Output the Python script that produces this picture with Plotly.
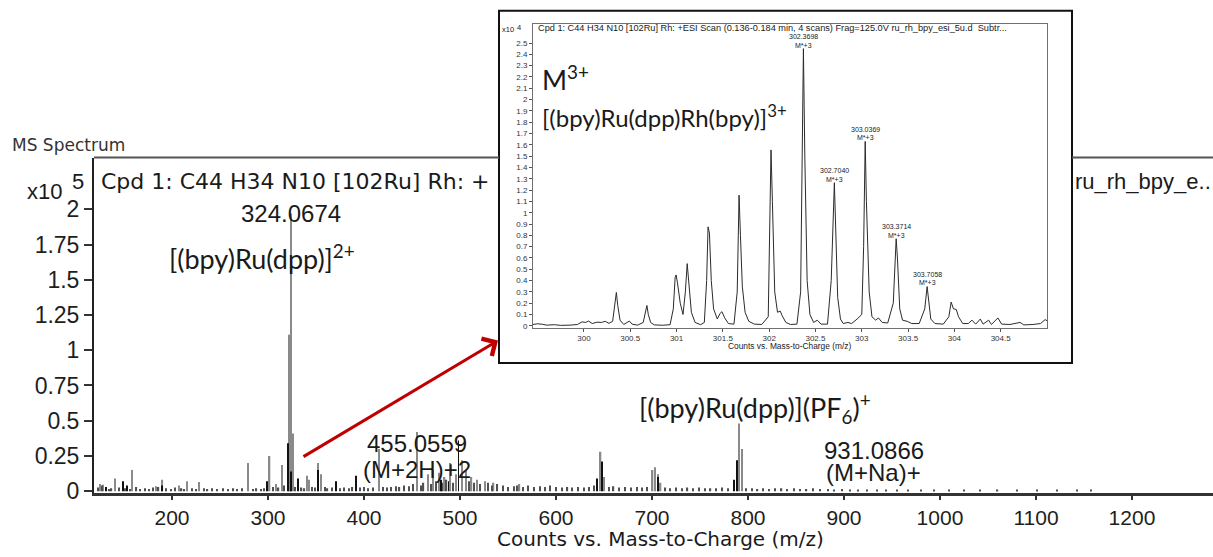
import plotly.graph_objects as go

W, H = 1213, 557
ARIAL = "Liberation Sans, Arial, sans-serif"
WIDE = "DejaVu Sans, Verdana, sans-serif"
HUMAN = "Lato, Calibri, sans-serif"

# ---------------- full-range spectrum (x10^5 counts) ----------------
# labelled ions
main_label_mz = [324.0674, 455.0559, 931.0866]
main_label_counts = [1.97, 0.42, 0.0]
main_label_charge = ["", "(M+2H)+2", "(M+Na)+"]

# profile signal (gray)
profile_mz = [125, 128, 140.5, 158, 183, 190, 207, 216, 228.5, 279.5, 301.7, 308,
              314.3, 321.9, 323.0, 325.9, 340.3, 343, 352.4, 355, 415.6,
              467, 472, 478, 484, 490, 496, 502, 506, 512, 518, 526, 535, 562,
              646.5, 650, 700.7, 703, 706, 709, 790.6, 793.8]
profile_counts = [0.05, 0.045, 0.09, 0.15, 0.035, 0.08, 0.04, 0.07, 0.065, 0.20, 0.25, 0.05,
                  0.185, 1.11, 1.11, 0.41, 0.11, 0.08, 0.20, 0.12, 0.30,
                  0.12, 0.15, 0.13, 0.10, 0.20, 0.12, 0.22, 0.15, 0.10, 0.08, 0.07, 0.06, 0.05,
                  0.28, 0.10, 0.15, 0.17, 0.12, 0.06, 0.48, 0.30]

# centroid sticks (black)
stick_mz = [131, 149, 153, 190, 299.3, 320.5, 324.0, 331.6, 352.0, 370.5, 391.3,
            480, 488, 498.4, 643, 648, 706, 785, 789]
stick_counts = [0.03, 0.07, 0.04, 0.04, 0.07, 0.34, 0.14, 0.09, 0.15, 0.07, 0.11,
                0.08, 0.07, 0.36, 0.09, 0.21, 0.10, 0.08, 0.22]

# low-level chemical noise along the baseline
noise_mz = [123, 127, 134, 137, 145, 151, 156, 163, 167, 172, 176, 180, 186, 194, 199,
            203, 210, 213, 221, 225, 233, 237, 242, 247, 253, 258, 264, 268, 273, 284,
            288, 293, 296, 305, 311, 317, 328, 335, 338, 346, 349, 359, 362, 367, 375,
            379, 384, 388, 396, 400, 404, 409, 420, 424, 428, 433, 437, 442, 447, 451,
            459, 462, 470, 475, 481, 486, 493, 509, 515, 521, 529, 533, 539, 545, 550,
            556, 560, 566, 571, 577, 583, 589, 594, 600, 606, 612, 617, 623, 629, 634,
            640, 655, 660, 666, 672, 678, 684, 690, 695, 714, 719, 725, 731, 737, 743,
            749, 755, 761, 767, 773, 779, 798, 804, 810, 816, 822, 828, 835, 841, 848,
            854, 861, 868, 875, 883, 890, 898, 906, 915, 924, 934, 944, 955, 967, 980,
            994, 1009, 1025, 1042, 1060, 1080, 1101, 1122, 1143, 1157]
noise_counts = [0.025, 0.04, 0.015, 0.02, 0.025, 0.02, 0.015, 0.03, 0.015, 0.02, 0.015, 0.025, 0.03, 0.02, 0.015,
                0.025, 0.02, 0.015, 0.02, 0.015, 0.02, 0.015, 0.02, 0.015, 0.02, 0.015, 0.02, 0.015, 0.02, 0.015,
                0.02, 0.015, 0.02, 0.03, 0.025, 0.04, 0.03, 0.025, 0.02, 0.03, 0.025, 0.03, 0.02, 0.025, 0.02,
                0.025, 0.02, 0.03, 0.025, 0.03, 0.02, 0.025, 0.03, 0.025, 0.03, 0.035, 0.03, 0.04, 0.035, 0.05,
                0.04, 0.06, 0.05, 0.07, 0.06, 0.08, 0.06, 0.07, 0.06, 0.05, 0.06, 0.04, 0.05, 0.04, 0.03,
                0.035, 0.04, 0.03, 0.04, 0.03, 0.035, 0.03, 0.04, 0.03, 0.025, 0.03, 0.025, 0.03, 0.025, 0.03,
                0.04, 0.03, 0.035, 0.025, 0.03, 0.025, 0.03, 0.025, 0.03, 0.025, 0.02, 0.025, 0.02, 0.025, 0.02,
                0.025, 0.02, 0.02, 0.02, 0.025, 0.02, 0.02, 0.02, 0.015, 0.02, 0.015, 0.02, 0.02, 0.015, 0.02,
                0.015, 0.015, 0.02, 0.015, 0.015, 0.012, 0.015, 0.012, 0.012, 0.01, 0.012, 0.01, 0.01, 0.008, 0.01,
                0.008, 0.008, 0.006, 0.008, 0.006, 0.006, 0.006, 0.005, 0.006, 0.006]

main_xticks = [200, 300, 400, 500, 600, 700, 800, 900, 1000, 1100, 1200]
main_yticks = [0, 0.25, 0.5, 0.75, 1, 1.25, 1.5, 1.75, 2]
main_yticktext = ["0", "0.25", "0.5", "0.75", "1", "1.25", "1.5", "1.75", "2"]

# ---------------- zoomed M3+ isotope cluster (x10^4 counts) ----------------
inset_peak_mz = [302.3698, 302.7040, 303.0369, 303.3714, 303.7058]
inset_peak_counts = [2.45, 1.265, 1.63, 0.77, 0.347]

inset_mz = [299.45, 299.50, 299.55, 299.60, 299.68, 299.75, 299.85, 299.93, 299.98, 300.02,
            300.05, 300.09, 300.14, 300.19, 300.23, 300.27, 300.31, 300.335, 300.35, 300.365,
            300.39, 300.43, 300.47, 300.49, 300.52, 300.58, 300.64, 300.665, 300.68, 300.695,
            300.72, 300.76, 300.85, 300.93, 300.965, 300.985, 300.995, 301.01, 301.04, 301.07,
            301.095, 301.115, 301.13, 301.16, 301.20, 301.26, 301.30, 301.325, 301.34, 301.355,
            301.375, 301.40, 301.44, 301.47, 301.49, 301.52, 301.56, 301.62, 301.655, 301.675,
            301.69, 301.71, 301.74, 301.78, 301.84, 301.92, 301.99, 302.01, 302.02, 302.035,
            302.06, 302.09, 302.12, 302.14, 302.18, 302.23, 302.30, 302.34, 302.358,
            302.385, 302.41, 302.44, 302.48, 302.52, 302.56, 302.63, 302.67,
            302.718, 302.74, 302.77, 302.80, 302.85, 302.89, 302.95, 303.00, 303.02,
            303.05, 303.08, 303.11, 303.15, 303.18, 303.22, 303.28, 303.34,
            303.385, 303.41, 303.44, 303.49, 303.54, 303.62, 303.68,
            303.72, 303.745, 303.79, 303.88, 303.94, 303.965, 303.99, 304.02, 304.045,
            304.09, 304.15, 304.19, 304.23, 304.28, 304.31, 304.37, 304.40, 304.47, 304.51,
            304.60, 304.71, 304.75, 304.85, 304.93, 304.98, 305.00]
inset_counts = [0.012, 0.018, 0.014, 0.006, 0.010, 0.004, 0.006, 0.012, 0.035, 0.030,
                0.042, 0.020, 0.032, 0.030, 0.040, 0.022, 0.040, 0.200, 0.295, 0.180,
                0.050, 0.012, 0.030, 0.042, 0.015, 0.006, 0.030, 0.120, 0.180, 0.100,
                0.030, 0.008, 0.005, 0.010, 0.150, 0.430, 0.450, 0.380, 0.200, 0.100,
                0.300, 0.550, 0.380, 0.120, 0.030, 0.010, 0.030, 0.400, 0.875, 0.820,
                0.400, 0.150, 0.060, 0.110, 0.125, 0.070, 0.020, 0.015, 0.300, 1.155,
                0.800, 0.350, 0.120, 0.040, 0.015, 0.012, 0.080, 0.900, 1.555, 1.100,
                0.300, 0.120, 0.130, 0.090, 0.030, 0.012, 0.015, 0.300, 1.800,
                1.500, 0.400, 0.100, 0.030, 0.050, 0.015, 0.015, 0.400,
                0.900, 0.250, 0.060, 0.020, 0.030, 0.020, 0.060, 0.100, 0.700,
                1.100, 0.300, 0.080, 0.050, 0.070, 0.030, 0.025, 0.200,
                0.600, 0.150, 0.050, 0.040, 0.020, 0.020, 0.150,
                0.250, 0.060, 0.020, 0.015, 0.080, 0.210, 0.150, 0.145, 0.080,
                0.020, 0.020, 0.050, 0.015, 0.060, 0.015, 0.050, 0.012, 0.070, 0.015,
                0.012, 0.030, 0.008, 0.012, 0.020, 0.055, 0.045]

inset_xticks = [300, 300.5, 301, 301.5, 302, 302.5, 303, 303.5, 304, 304.5]
inset_xticktext = ["300", "300.5", "301", "301.5", "302", "302.5", "303", "303.5", "304", "304.5"]
inset_yticks = [0, 0.1, 0.2, 0.3, 0.4, 0.5, 0.6, 0.7, 0.8, 0.9, 1, 1.1, 1.2, 1.3,
                1.4, 1.5, 1.6, 1.7, 1.8, 1.9, 2, 2.1, 2.2, 2.3, 2.4, 2.5]
inset_yticktext = ["0", "0.1", "0.2", "0.3", "0.4", "0.5", "0.6", "0.7", "0.8", "0.9", "1",
                   "1.1", "1.2", "1.3", "1.4", "1.5", "1.6", "1.7", "1.8", "1.9", "2",
                   "2.1", "2.2", "2.3", "2.4", "2.5"]


def px(x):
    return x / W


def py(y):
    return 1 - y / H


# profile trace includes the labelled ions; inset profile includes its labelled apexes
gray_x = profile_mz + main_label_mz[:2]
gray_y = profile_counts + main_label_counts[:2]
pts = sorted(zip(inset_mz + inset_peak_mz, inset_counts + inset_peak_counts))
inset_x = [p[0] for p in pts]
inset_y = [p[1] for p in pts]

fig = go.Figure()
fig.add_trace(go.Bar(x=gray_x, y=gray_y, width=1.4, marker=dict(color="#8a8a8a", line_width=0),
                     xaxis="x", yaxis="y", hoverinfo="skip"))
fig.add_trace(go.Bar(x=noise_mz, y=noise_counts, width=1.3, marker=dict(color="#505050", line_width=0),
                     xaxis="x", yaxis="y", hoverinfo="skip"))
fig.add_trace(go.Bar(x=stick_mz, y=stick_counts, width=0.9, marker=dict(color="#111111", line_width=0),
                     xaxis="x", yaxis="y", hoverinfo="skip"))
fig.add_trace(go.Scatter(x=inset_x, y=inset_y, mode="lines", line=dict(color="#2b2b2b", width=1),
                         xaxis="x2", yaxis="y2", hoverinfo="skip"))

tick_main = dict(family=ARIAL, size=21, color="#1e1e1e")
tick_inset = dict(family=ARIAL, size=8, color="#333333")

fig.update_layout(
    width=W, height=H, autosize=False,
    margin=dict(l=0, r=0, t=0, b=0),
    paper_bgcolor="white", plot_bgcolor="rgba(0,0,0,0)",
    showlegend=False, barmode="overlay",
    xaxis=dict(domain=[px(94), 1], range=[118.75, 1284.4], anchor="y",
               tickvals=main_xticks, ticks="outside", ticklen=4, tickwidth=1.5, tickcolor="#333",
               showline=True, linecolor="#333", linewidth=3, showgrid=False, zeroline=False,
               tickfont=tick_main),
    yaxis=dict(domain=[py(503.4), py(161)], range=[-0.01, 2.368], anchor="x",
               tickvals=main_yticks, ticktext=main_yticktext, ticks="outside", ticklen=8,
               tickwidth=1.5, tickcolor="#333", showline=True, linecolor="#222", linewidth=2,
               showgrid=False, zeroline=False, tickfont=dict(tick_main, size=23)),
    xaxis2=dict(domain=[px(533), px(1047)], range=[299.45, 305.0], anchor="y2",
                tickvals=inset_xticks, ticktext=inset_xticktext, ticks="outside", ticklen=3,
                tickcolor="#555", showline=True, mirror=True, linecolor="#707070", linewidth=1,
                showgrid=False, zeroline=False, tickfont=tick_inset),
    yaxis2=dict(domain=[py(335), py(25)], range=[-0.0173, 2.664], anchor="x2",
                tickvals=inset_yticks, ticktext=inset_yticktext, ticks="outside", ticklen=3,
                tickcolor="#555", showline=True, mirror=True, linecolor="#707070", linewidth=1,
                showgrid=False, zeroline=False, tickfont=tick_inset),
)

shapes = [
    # inset frame
    dict(type="rect", xref="paper", yref="paper", x0=px(499), x1=px(1072), y0=py(371), y1=py(11),
         fillcolor="white", line=dict(color="#111", width=2), layer="below"),
    # top border of the main plot, either side of the inset
    dict(type="line", xref="paper", yref="paper", x0=px(94), x1=px(499), y0=py(161), y1=py(161),
         line=dict(color="#555", width=2), layer="below"),
    dict(type="line", xref="paper", yref="paper", x0=px(1072), x1=px(1213), y0=py(161), y1=py(161),
         line=dict(color="#555", width=2), layer="below"),
]
fig.update_layout(shapes=shapes)


def note(text, x, y, size, family=ARIAL, xanchor="center", xref="paper", yref="paper",
         color="#1a1a1a", yshift=0, pad=1):
    return dict(text=text, x=x, y=y, xref=xref, yref=yref, showarrow=False, yshift=yshift,
                font=dict(family=family, size=size, color=color), xanchor=xanchor,
                yanchor="middle", borderpad=pad)


ann = [
    note("MS Spectrum", px(10), py(148), 17, family=WIDE, xanchor="left", color="#333"),
    note("x10", px(64), py(196), 22, xanchor="right"),
    note("5", px(78), py(185), 22),
    note("Cpd 1: C44 H34 N10 [102Ru] Rh: +", px(99), py(186), 22, family=WIDE, xanchor="left"),
    note("ru_rh_bpy_e..", px(1073), py(186), 22, xanchor="left"),
    note("Counts vs. Mass-to-Charge (m/z)", px(660), py(551), 20, family=WIDE, pad=0),
    # main peak labels
    note(f"{main_label_mz[0]:.4f}", main_label_mz[0], py(218), 24, xref="x"),
    note("[(bpy)Ru(dpp)]<sup>2+</sup>", px(167), py(263), 27, family=HUMAN, xanchor="left"),
    note(f"{main_label_mz[1]:.4f}", main_label_mz[1], py(453), 24, xref="x"),
    note(main_label_charge[1], main_label_mz[1], py(480), 24, xref="x"),
    note(f"{main_label_mz[2]:.4f}", main_label_mz[2], py(460), 24, xref="x"),
    note(main_label_charge[2], main_label_mz[2], py(483), 24, xref="x"),
    note("[(bpy)Ru(dpp)](PF<sub>6</sub>)<sup>+</sup>", px(637), py(417), 27, family=HUMAN,
         xanchor="left"),
    # inset texts
    note("x10", px(516), py(30), 7.5, xanchor="right"),
    note("4", px(519), py(28), 7.5),
    note("Cpd 1: C44 H34 N10 [102Ru] Rh: +ESI Scan (0.136-0.184 min, 4 scans) "
         "Frag=125.0V ru_rh_bpy_esi_5u.d  Subtr...", px(537), py(29), 9.2, xanchor="left", pad=0),
    note("Counts vs. Mass-to-Charge (m/z)", px(790), py(354), 8.4),
    note("M<sup>3+</sup>", px(540), py(80), 27, family=HUMAN, xanchor="left"),
    note("[(bpy)Ru(dpp)Rh(bpy)]<sup>3+</sup>", px(540), py(119), 24, family=HUMAN, xanchor="left"),
]
for mz, c in zip(inset_peak_mz, inset_peak_counts):
    ann.append(note(f"{mz:.4f}", mz, c, 7, xref="x2", yref="y2", yshift=11.8, pad=0))
    ann.append(note("M*+3", mz, c, 7, xref="x2", yref="y2", yshift=3.6, pad=0))

# red arrow from the 324 cluster to the zoomed view
ann.append(dict(x=px(498), y=py(348), xref="paper", yref="paper", text="", showarrow=True,
                ax=-196, ay=117, arrowhead=4, arrowsize=1.3, arrowwidth=3,
                arrowcolor="#c00000", standoff=0))
fig.update_layout(annotations=ann)

fig.write_html("out.html")
